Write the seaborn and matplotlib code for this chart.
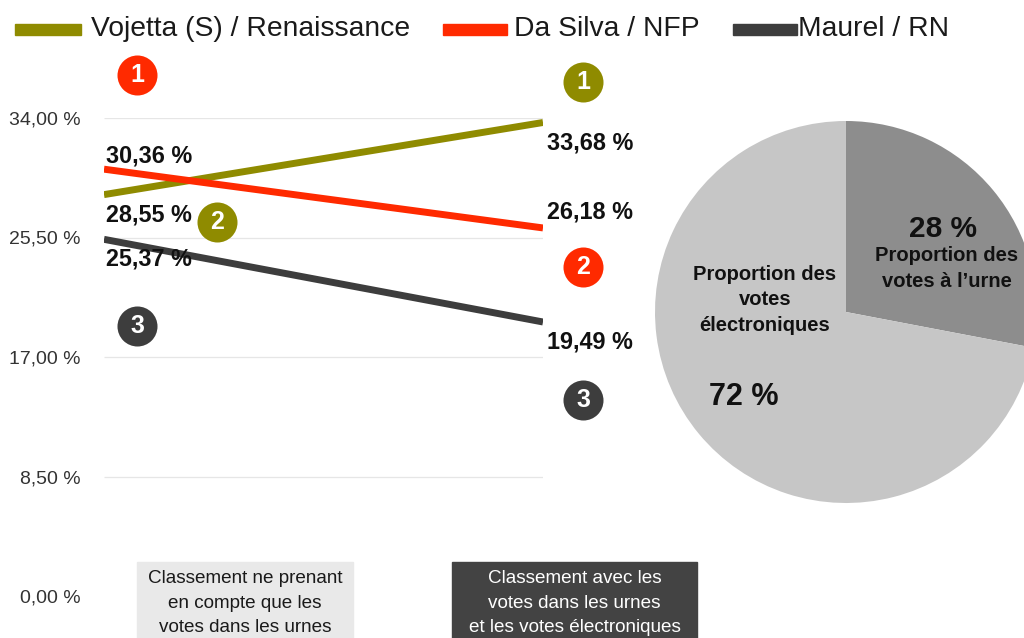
import matplotlib
matplotlib.use("Agg")
import matplotlib.pyplot as plt
from matplotlib.patches import Rectangle
from matplotlib.ticker import FuncFormatter
import seaborn as sns
import pandas as pd

# ---------------- data ----------------
candidates = ["Vojetta (S) / Renaissance", "Da Silva / NFP", "Maurel / RN"]
colors = ["#8f8b00", "#ff2a00", "#3d3d3d"]
scores_urnes = [28.55, 30.36, 25.37]        # left: urn votes only
scores_total = [33.68, 26.18, 19.49]        # right: urn + electronic votes
ranks_urnes = [2, 1, 3]
ranks_total = [1, 2, 3]
stage_labels = ["Classement ne prenant\nen compte que les\nvotes dans les urnes",
                "Classement avec les\nvotes dans les urnes\net les votes électroniques"]
yticks = [0, 8.5, 17, 25.5, 34]
pie_labels = ["Proportion des\nvotes à l’urne", "Proportion des\nvotes\nélectroniques"]
pie_values = [28, 72]
pie_colors = ["#8d8d8d", "#c6c6c6"]

# ---------------- style ----------------
sns.set_theme(style="white")
plt.rcParams["font.family"] = ["Liberation Sans", "DejaVu Sans"]
plt.rcParams["lines.solid_capstyle"] = "butt"

W, H = 1024, 638
fig = plt.figure(figsize=(W / 100, H / 100), dpi=100)
fig.patch.set_facecolor("white")

def fx(px):
    return px / W

def fy(py):
    return (H - py) / H

# main line axes: x 104..543 px, y 0 -> 596 px, 34 -> 118 px
ax = fig.add_axes([fx(104), fy(596), fx(543) - fx(104), fy(118) - fy(596)])

rows = []
for c, a, b in zip(candidates, scores_urnes, scores_total):
    rows.append({"candidat": c, "pos": 0, "score": a})
    rows.append({"candidat": c, "pos": 1, "score": b})
df = pd.DataFrame(rows)

sns.lineplot(data=df, x="pos", y="score", hue="candidat", hue_order=candidates,
             palette=colors, linewidth=5, legend=False, ax=ax, zorder=3)

ax.set_xlim(0, 1)
ax.set_ylim(0, 34)
ax.set_xticks([])
ax.set_yticks(yticks)
ax.yaxis.set_major_formatter(FuncFormatter(lambda v, p: f"{v:.2f}".replace(".", ",") + " %"))
ax.tick_params(axis="y", length=0, pad=17, labelsize=14, labelcolor="#333333")
ax.set_xlabel("")
ax.set_ylabel("")
for s in ax.spines.values():
    s.set_visible(False)
for t in yticks[1:]:
    ax.axhline(t, color="#e6e6e6", linewidth=0.9, zorder=1)

def fmt(v):
    return f"{v:.2f}".replace(".", ",") + " %"

# value labels (baseline offsets in pixels relative to line ends)
left_offsets = [(2, -27), (2, 7), (2, -26)]
right_offsets = [(4, -27), (4, 9), (4, -27)]
for i in range(len(candidates)):
    ax.annotate(fmt(scores_urnes[i]), (0, scores_urnes[i]), xytext=left_offsets[i],
                textcoords="offset pixels", ha="left", va="baseline",
                fontsize=16.8, fontweight="bold", color="#111111",
                annotation_clip=False, zorder=5)
    ax.annotate(fmt(scores_total[i]), (1, scores_total[i]), xytext=right_offsets[i],
                textcoords="offset pixels", ha="left", va="baseline",
                fontsize=16.8, fontweight="bold", color="#111111",
                annotation_clip=False, zorder=5)

# rank badges (axes-fraction positions)
left_badge_pos = [(0.257, 26.6 / 34), (0.075, 37.06 / 34), (0.075, 19.2 / 34)]
right_badge_pos = [(1.091, 36.56 / 34), (1.091, 23.4 / 34), (1.091, 13.94 / 34)]
for i in range(len(candidates)):
    for (bx, by), rk in ((left_badge_pos[i], ranks_urnes[i]), (right_badge_pos[i], ranks_total[i])):
        ax.scatter([bx], [by], s=830, color=colors[i], transform=ax.transAxes,
                   clip_on=False, zorder=6, linewidths=0)
        ax.text(bx, by, str(rk), transform=ax.transAxes, ha="center", va="center",
                color="white", fontsize=18, fontweight="bold", zorder=7)

# legend (manual, figure pixels)
legend_bars = [(15, 81), (443, 507), (733, 797)]
legend_text_x = [91, 514, 798]
for i, c in enumerate(candidates):
    x0, x1 = legend_bars[i]
    fig.patches.append(Rectangle((fx(x0), fy(35)), fx(x1 - x0), (35 - 24) / H,
                                 transform=fig.transFigure, color=colors[i], zorder=2))
    fig.text(fx(legend_text_x[i]), fy(36), c, ha="left", va="baseline",
             fontsize=20.3, color="#1a1a1a")

# bottom stage boxes
boxes = [(137, 353, "#e9e9e9", "#1a1a1a"), (452, 697, "#434343", "white")]
for (x0, x1, bg, fg), lab in zip(boxes, stage_labels):
    fig.patches.append(Rectangle((fx(x0), fy(H + 20)), fx(x1 - x0), (H + 20 - 562) / H,
                                 transform=fig.transFigure, color=bg, zorder=2))
    fig.text(fx((x0 + x1) / 2), fy(603), lab, ha="center", va="center",
             fontsize=13.6, color=fg, linespacing=1.55)

# pie: center (846, 312) radius 191 px
R = 191
axp = fig.add_axes([fx(846 - R), fy(312 + R), 2 * R / W, 2 * R / H])
axp.pie(pie_values, colors=pie_colors, startangle=90, counterclock=False,
        radius=1, wedgeprops=dict(linewidth=0))
axp.set_xlim(-1, 1)
axp.set_ylim(-1, 1)
axp.set_aspect("equal")
axp.axis("off")
axp.text(0.508, 0.435, f"{pie_values[0]} %", ha="center", va="center",
         fontsize=21.5, fontweight="bold", color="#111111")
axp.text(0.529, 0.228, pie_labels[0], ha="center", va="center",
         fontsize=14.5, fontweight="bold", color="#111111", linespacing=1.45)
axp.text(-0.424, 0.063, pie_labels[1], ha="center", va="center",
         fontsize=14.5, fontweight="bold", color="#111111", linespacing=1.45)
axp.text(-0.534, -0.445, f"{pie_values[1]} %", ha="center", va="center",
         fontsize=22, fontweight="bold", color="#111111")

fig.savefig("out.png", dpi=100, facecolor="white")
